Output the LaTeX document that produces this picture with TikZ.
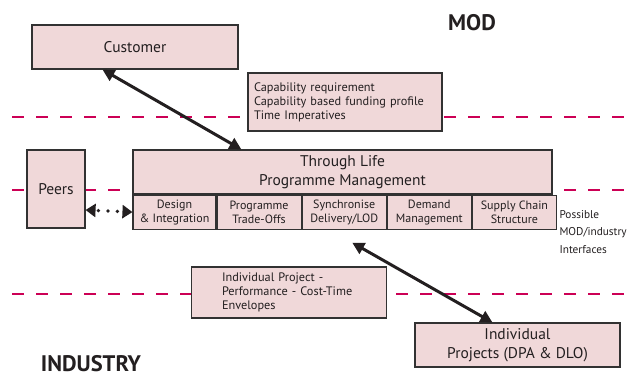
\documentclass[tikz,border=0pt]{standalone}
\usepackage{fontspec}
\setmainfont{PT Sans}
\usepackage{tikz}
\usetikzlibrary{arrows.meta, positioning}
\usepackage{xcolor}
\definecolor{boxpink}{RGB}{240, 216, 217}
\definecolor{edgegray}{RGB}{50, 50, 50}
\definecolor{dashred}{RGB}{204, 0, 85}
\definecolor{inkgray}{RGB}{35, 31, 32}

\tikzset{
  box/.style={draw=edgegray, fill=boxpink, line width=1.1pt, text=inkgray, inner sep=0pt},
  cell/.style={box, minimum width=84pt, minimum height=34pt, align=center,
    font=\fontsize{12}{14}\selectfont},
  bigtext/.style={font=\fontsize{15.5}{18.5}\selectfont},
  notetext/.style={font=\fontsize{12.3}{14}\selectfont, align=left},
  zonetitle/.style={font=\fontsize{22.5}{27}\selectfont\bfseries, text=inkgray, anchor=base, inner sep=0pt},
  zoneline/.style={dashred, line width=2pt, dash pattern=on 12pt off 12pt},
  bigarrow/.style={{Triangle[length=12pt,width=12pt]}-{Triangle[length=12pt,width=12pt]}, line width=3pt, inkgray},
  dotarrow/.style={{Triangle[length=10pt,width=13pt]}-{Triangle[length=10pt,width=13pt]}, line width=3.8pt, inkgray,
    dash pattern=on 0pt off 9.5pt, dash phase=6pt, line cap=round}
}

\begin{document}
\begin{tikzpicture}[x=1pt, y=-1pt]

  \useasboundingbox (0,0) rectangle (633,379);

  % Zone boundaries
  \draw[zoneline] (12,117) -- (633,117);
  \draw[zoneline] (12,190) -- (633,190);
  \draw[zoneline] (12,294) -- (633,294);

  % Zone titles
  \node[zonetitle] (mod) at (472,31) {MOD};
  \node[zonetitle] (industry) at (91,372) {INDUSTRY};

  % Customer side
  \node[box, bigtext, minimum width=206pt, minimum height=44pt] (customer) at (135,47) {Customer};
  \node[box, notetext, text width=182pt, minimum width=194pt, minimum height=58pt, inner xsep=6pt]
    (capreq) at (345,102) {Capability requirement\\Capability based funding profile\\Time Imperatives};

  % Through life management and its functions
  \node[box, bigtext, align=center, minimum width=419pt, minimum height=44pt] (tlpm) at (342.5,172)
    {Through Life\\Programme Management};
  \node[cell, minimum width=83pt, anchor=north west] (design) at (tlpm.south west) {Design\\\& Integration};
  \node[cell, right=0pt of design] (tradeoffs) {Programme\\Trade-Offs};
  \node[cell, right=0pt of tradeoffs] (sync) {Synchronise\\Delivery/LOD};
  \node[cell, right=0pt of sync] (demand) {Demand\\Management};
  \node[cell, right=0pt of demand] (supply) {Supply Chain\\Structure};

  \node[box, bigtext, minimum width=58pt, minimum height=78pt] (peers) at (56,189) {Peers};

  \node[font=\fontsize{11.3}{17.5}\selectfont, align=left, text=inkgray, anchor=west] (interfaces) at (556,232)
    {Possible\\MOD/industry\\Interfaces};

  % Industry side
  \node[box, notetext, text width=134pt, minimum width=195pt, minimum height=51pt]
    (envelopes) at (289,292.5) {Individual Project -\\Performance - Cost-Time\\Envelopes};
  \node[box, bigtext, align=center, minimum width=205pt, minimum height=44pt] (projects) at (517.5,345)
    {Individual\\Projects (DPA \& DLO)};

  % Links
  \draw[bigarrow] ([xshift=71pt]customer.south west) -- ([xshift=109pt]tlpm.north west);
  \draw[bigarrow] ([xshift=8pt, yshift=-13pt]sync.south) -- ([xshift=-25pt]projects.north);
  \draw[dotarrow] ([yshift=-21pt]peers.east) -- (design.west);

\end{tikzpicture}
\end{document}
